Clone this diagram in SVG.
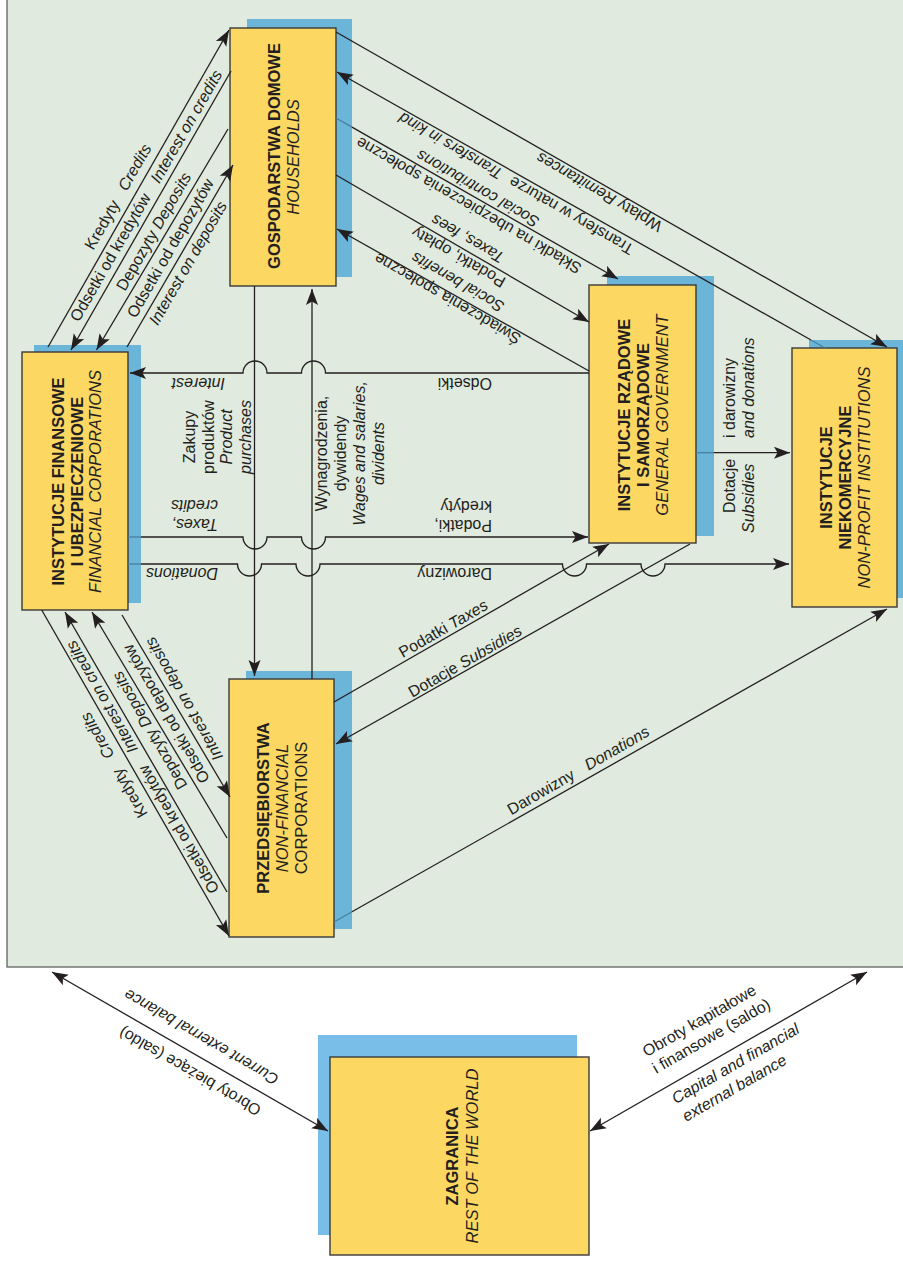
<svg xmlns="http://www.w3.org/2000/svg" width="903" height="1263" viewBox="0 0 903 1263">
<defs>
<marker id="ah" markerUnits="userSpaceOnUse" markerWidth="18" markerHeight="14" refX="16" refY="6.5" orient="auto-start-reverse" viewBox="0 0 18 14">
<path d="M0,0.5 L16,6.5 L0,12.5 L3.5,6.5 Z" fill="#231f20"/>
</marker>
</defs>
<style>
.ln{fill:none;stroke:#231f20;stroke-width:1.3}
.ar{marker-end:url(#ah)}
.fa{fill:none;stroke:#4a7f9d;stroke-width:1.3}
.bx{fill:#fcd762;stroke:#3a3a3a;stroke-width:1.4}
.sh{fill:#6bb5d9}
.sh2{fill:#78bee8}
text{font-family:"Liberation Sans",Arial,Helvetica,sans-serif;font-size:16px;fill:#231f20}
.n{font-size:16.5px}
.b{font-weight:bold}
.i{font-style:italic}
</style>
<rect x="0" y="0" width="903" height="1263" fill="#ffffff"/>
<rect x="7" y="-10" width="1000" height="977" fill="#e1eade" stroke="#555555" stroke-width="1.2"/>

<g id="households">
<rect class="sh" x="247" y="19" width="105" height="258"/>
<rect class="bx" x="230" y="28" width="106" height="258"/>
<text class="n b" transform="translate(280 156) rotate(-90)" text-anchor="middle">GOSPODARSTWA DOMOWE</text>
<text class="n i" transform="translate(299 157) rotate(-90)" text-anchor="middle">HOUSEHOLDS</text>
</g>
<g id="financial">
<rect class="sh" x="34" y="345" width="107" height="258"/>
<rect class="bx" x="22" y="352" width="106" height="258"/>
<text class="n b" transform="translate(63.5 481.5) rotate(-90)" text-anchor="middle">INSTYTUCJE FINANSOWE</text>
<text class="n b" transform="translate(83 481.5) rotate(-90)" text-anchor="middle">I UBEZPIECZENIOWE</text>
<text class="n i" transform="translate(101 481.5) rotate(-90)" text-anchor="middle">FINANCIAL CORPORATIONS</text>
</g>
<g id="government">
<rect class="sh" x="607" y="276" width="107" height="260"/>
<rect class="bx" x="589" y="285" width="107" height="258"/>
<text class="n b" transform="translate(629.5 415) rotate(-90)" text-anchor="middle">INSTYTUCJE RZĄDOWE</text>
<text class="n b" transform="translate(648.5 415) rotate(-90)" text-anchor="middle">I SAMORZĄDOWE</text>
<text class="n i" transform="translate(668 415) rotate(-90)" text-anchor="middle">GENERAL GOVERNMENT</text>
</g>
<g id="nonprofit">
<rect class="sh" x="809" y="340" width="105" height="258"/>
<rect class="bx" x="792" y="348" width="105" height="259"/>
<text class="n b" transform="translate(832 477.5) rotate(-90)" text-anchor="middle">INSTYTUCJE</text>
<text class="n b" transform="translate(851 477.5) rotate(-90)" text-anchor="middle">NIEKOMERCYJNE</text>
<text class="n i" transform="translate(870 477.5) rotate(-90)" text-anchor="middle">NON-PROFIT INSTITUTIONS</text>
</g>
<g id="nonfinancial">
<rect class="sh" x="246" y="671" width="106" height="258"/>
<rect class="bx" x="229" y="679" width="105" height="258"/>
<text class="n b" transform="translate(269 808) rotate(-90)" text-anchor="middle">PRZEDSIĘBIORSTWA</text>
<text class="n i" transform="translate(288 808) rotate(-90)" text-anchor="middle">NON-FINANCIAL</text>
<text class="n" transform="translate(306.5 808) rotate(-90)" text-anchor="middle">CORPORATIONS</text>
</g>
<g id="restofworld">
<rect class="sh2" x="318" y="1035" width="259" height="200"/>
<rect class="bx" x="330" y="1057" width="259" height="198"/>
<text class="n b" transform="translate(458 1156) rotate(-90)" text-anchor="middle">ZAGRANICA</text>
<text class="n i" transform="translate(478 1156) rotate(-90)" text-anchor="middle">REST OF THE WORLD</text>
</g>

<g id="connectors">
<path class="ln ar" d="M48,347 L229,30"/>
<path class="ln ar" d="M231,71 L71,350"/>
<path class="ln ar" d="M228,129 L96.5,350"/>
<path class="ln ar" d="M127,347 L233,165"/>
<path class="ln ar" d="M336,32 L887,347"/>
<path class="fa" d="M825,348 L811,340"/>
<path class="ln ar" d="M811,340 L337,72"/>
<path class="fa" d="M336,118 L352,127.1"/>
<path class="ln ar" d="M352,127.1 L618,279"/>
<path class="ln ar" d="M336,175 L589,322"/>
<path class="ln ar" d="M589,371 L337,229"/>
<path class="ln ar" d="M589,373 H325.5 A12,12 0 0 0 301.5,373 H267 A12,12 0 0 0 243,373 H130"/>
<path class="fa" d="M128,537 H141"/>
<path class="ln ar" d="M141,537 H243 A12,12 0 0 0 267,537 H301.5 A12,12 0 0 0 325.5,537 H588"/>
<path class="fa" d="M128,564 H141"/>
<path class="ln ar" d="M141,564 H237.5 A12,12 0 0 0 261.5,564 H296 A12,12 0 0 0 320,564 H562.5 A12,12 0 0 0 586.5,564 H641 A12,12 0 0 0 665,564 H789"/>
<path class="ln ar" d="M254.5,286 V676"/>
<path class="ln ar" d="M312,679 V289"/>
<path class="fa" d="M696,452.7 H714"/>
<path class="ln ar" d="M714,452.7 H790"/>
<path class="ln ar" d="M334,702 L609,544"/>
<path class="ln ar" d="M690,544 L336,744"/>
<path class="fa" d="M334,922 L352,911.8"/>
<path class="ln ar" d="M352,911.8 L887,609"/>
<path class="ln ar" d="M41.7,610 L229,936"/>
<path class="ln ar" d="M227,892 L65,612"/>
<path class="ln ar" d="M227,838 L92,612"/>
<path class="ln ar" d="M122,615 L230,797"/>
<path class="ln" marker-start="url(#ah)" marker-end="url(#ah)" d="M52,972 L328,1131"/>
<path class="ln" marker-start="url(#ah)" marker-end="url(#ah)" d="M590,1131 L867,972"/>
</g>

<g id="labels">
<text transform="translate(106.8 227.5) rotate(-60)" text-anchor="middle">Kredyty</text>
<text class="i" transform="translate(139.3 170) rotate(-60)" text-anchor="middle">Credits</text>
<text transform="translate(115 260) rotate(-60)" text-anchor="middle">Odsetki od kredytów</text>
<text class="i" transform="translate(191 129.2) rotate(-60)" text-anchor="middle">Interest on credits</text>
<text transform="translate(158.3 234.2) rotate(-60)" text-anchor="middle">Depozyty <tspan class="i">Deposits</tspan></text>
<text transform="translate(175 250.8) rotate(-60)" text-anchor="middle">Odsetki od depozytów</text>
<text class="i" transform="translate(192.6 265.8) rotate(-60)" text-anchor="middle">Interest on deposits</text>

<text transform="translate(601.9 187.4) rotate(210)" text-anchor="middle">Wpłaty <tspan class="i">Remittances</tspan></text>
<text transform="translate(518.9 179) rotate(210)" text-anchor="middle">Transfery w naturze <tspan class="i" dx="6">Transfers in kind</tspan></text>
<text class="i" transform="translate(480.5 184) rotate(210)" text-anchor="middle">Social contributions</text>
<text transform="translate(471.4 200.7) rotate(210)" text-anchor="middle">Składki na ubezpieczenia społeczne</text>
<text class="i" transform="translate(470.3 234) rotate(210)" text-anchor="middle">Taxes, fees</text>
<text transform="translate(461.2 252.4) rotate(210)" text-anchor="middle">Podatki, opłaty</text>
<text class="i" transform="translate(460.5 277.4) rotate(210)" text-anchor="middle">Social benefits</text>
<text transform="translate(450.2 294) rotate(210)" text-anchor="middle">Świadczenia społeczne</text>

<text transform="translate(492 378) rotate(180)">Odsetki</text>
<text class="i" transform="translate(225 378) rotate(180)">Interest</text>
<text transform="translate(492 519.5) rotate(180)">Podatki,</text>
<text transform="translate(492 500.5) rotate(180)">kredyty</text>
<text class="i" transform="translate(218 518.5) rotate(180)">Taxes,</text>
<text class="i" transform="translate(218 499.5) rotate(180)">credits</text>
<text transform="translate(492 568) rotate(180)">Darowizny</text>
<text class="i" transform="translate(218 568) rotate(180)">Donations</text>

<text transform="translate(195 437) rotate(-90)" text-anchor="middle">Zakupy</text>
<text transform="translate(213.5 437) rotate(-90)" text-anchor="middle">produktów</text>
<text class="i" transform="translate(232 437) rotate(-90)" text-anchor="middle">Product</text>
<text class="i" transform="translate(250.5 437) rotate(-90)" text-anchor="middle">purchases</text>
<text transform="translate(326.5 453.5) rotate(-90)" text-anchor="middle">Wynagrodzenia,</text>
<text transform="translate(345.5 453.5) rotate(-90)" text-anchor="middle">dywidendy</text>
<text class="i" transform="translate(364.5 453.5) rotate(-90)" text-anchor="middle">Wages and salaries,</text>
<text class="i" transform="translate(383.5 453.5) rotate(-90)" text-anchor="middle">dividents</text>
<text transform="translate(735 513) rotate(-90)">Dotacje</text>
<text transform="translate(735 438) rotate(-90)">i darowizny</text>
<text class="i" transform="translate(754 533) rotate(-90)">Subsidies</text>
<text class="i" transform="translate(754 438) rotate(-90)">and donations</text>

<text transform="translate(446 633.3) rotate(-30)" text-anchor="middle">Podatki <tspan class="i">Taxes</tspan></text>
<text transform="translate(467.8 666) rotate(-30)" text-anchor="middle">Dotacje <tspan class="i">Subsidies</tspan></text>
<text transform="translate(581 775.1) rotate(-30)" text-anchor="middle">Darowizny <tspan class="i" dx="10">Donations</tspan></text>

<text transform="translate(148 814.1) rotate(240)">Kredyty</text>
<text class="i" transform="translate(89.3 711.1) rotate(240)" text-anchor="end">Credits</text>
<text transform="translate(219.7 889.4) rotate(240)">Odsetki od kredytów</text>
<text class="i" transform="translate(74.75 639.2) rotate(240)" text-anchor="end">Interest on credits</text>
<text transform="translate(154.3 727.8) rotate(240)" text-anchor="middle">Depozyty <tspan class="i">Deposits</tspan></text>
<text transform="translate(171 711.2) rotate(240)" text-anchor="middle">Odsetki od depozytów</text>
<text class="i" transform="translate(188.6 696.2) rotate(240)" text-anchor="middle">Interest on deposits</text>

<text class="i" transform="translate(204 1032.4) rotate(210)" text-anchor="middle">Current external balance</text>
<text transform="translate(192.5 1066.7) rotate(210)" text-anchor="middle">Obroty bieżące (saldo)</text>
<text transform="translate(646.6 1057.3) rotate(-30)">Obroty kapitałowe</text>
<text transform="translate(656.2 1074) rotate(-30)">i finansowe (saldo)</text>
<text class="i" transform="translate(675.8 1104.3) rotate(-30)">Capital and financial</text>
<text class="i" transform="translate(686.2 1122) rotate(-30)">external balance</text>
</g>
</svg>
